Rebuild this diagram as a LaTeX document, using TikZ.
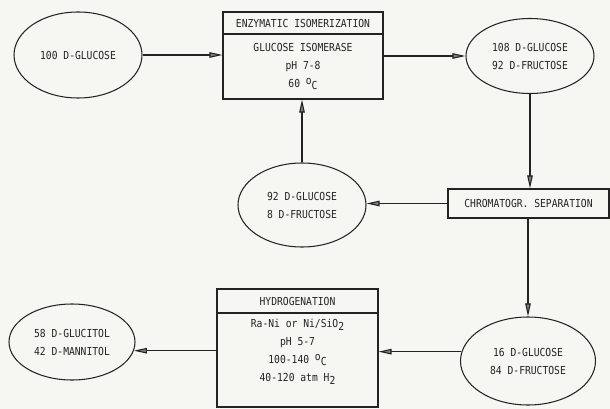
\documentclass[tikz,border=0pt]{standalone}
\usepackage{fontspec}
\usetikzlibrary{shapes.geometric,arrows.meta}
\newfontfamily\typefont[FakeStretch=0.88]{DejaVu Sans Mono}
\definecolor{paper}{RGB}{246,246,243}
\definecolor{ink}{RGB}{35,35,35}
\definecolor{tipfill}{RGB}{125,125,122}
% typewriter-style degree sign and subscript
\newcommand\degC{\raisebox{3.5pt}{o}\raisebox{-1.5pt}{C}}
\newcommand\lowtwo{\raisebox{-3pt}{2}}
\tikzset{
  base/.style={draw=ink, line width=1.05pt, text=ink,
    font=\typefont\fontsize{11}{18}\selectfont, inner sep=0pt, align=center},
  pool/.style={base, ellipse},
  panel/.style={base, rectangle},
  flow/.style={draw=ink, line width=1.05pt,
    -{Triangle[length=13pt,width=5.5pt,fill=tipfill]}},
}
\begin{document}
\begin{tikzpicture}[x=1pt,y=-1pt]
\useasboundingbox (0,0) rectangle (610,409);
\fill[paper] (0,0) rectangle (610,409);

% feed
\node[pool, minimum width=128pt, minimum height=86pt] (e1) at (78,55) {100 D-GLUCOSE};

% isomerization step
\node[panel, minimum width=160pt, minimum height=22pt] (iso) at (303,23) {ENZYMATIC ISOMERIZATION};
\node[panel, minimum width=160pt, minimum height=65pt] (isob) at (303,66.5)
  {GLUCOSE ISOMERASE\\pH 7-8\\60 \degC};

\node[pool, minimum width=128pt, minimum height=75pt] (e2) at (530,56)
  {108 D-GLUCOSE\\92 D-FRUCTOSE};

% separation
\node[panel, minimum width=161pt, minimum height=29pt] (sep) at (528.5,203.5)
  {CHROMATOGR. SEPARATION};

\node[pool, minimum width=128pt, minimum height=84pt] (e3) at (302,205)
  {92 D-GLUCOSE\\8 D-FRUCTOSE};

\node[pool, minimum width=135pt, minimum height=88pt] (e4) at (528,361)
  {16 D-GLUCOSE\\84 D-FRUCTOSE};

% hydrogenation step
\node[panel, minimum width=161pt, minimum height=24pt] (hyd) at (297.5,301) {HYDROGENATION};
\node[panel, minimum width=161pt, minimum height=94pt] (hydb) at (297.5,360) {};
\node[base, draw=none] (hydt) at (297.5,352)
  {Ra-Ni or Ni/SiO\lowtwo\\pH 5-7\\100-140 \degC\\40-120 atm H\lowtwo};

\node[pool, minimum width=126pt, minimum height=76pt] (e5) at (72,342)
  {58 D-GLUCITOL\\42 D-MANNITOL};

% flows
\draw[flow] (e1.east) -- (e1.east -| iso.west);
\draw[flow] (e2.west -| isob.east) -- (e2.west);
\draw[flow] (e2.south) -- (e2.south |- sep.north);
\draw[flow] (sep.west) -- (sep.west -| e3.east);
\draw[flow] (e3.north) -- (e3.north |- isob.south);
\draw[flow] (e4.north |- sep.south) -- (e4.north);
\draw[flow] (e4.172) -- (e4.172 -| hydb.east);
\draw[flow] (e5.-8 -| hydb.west) -- (e5.-8);
\end{tikzpicture}
\end{document}
